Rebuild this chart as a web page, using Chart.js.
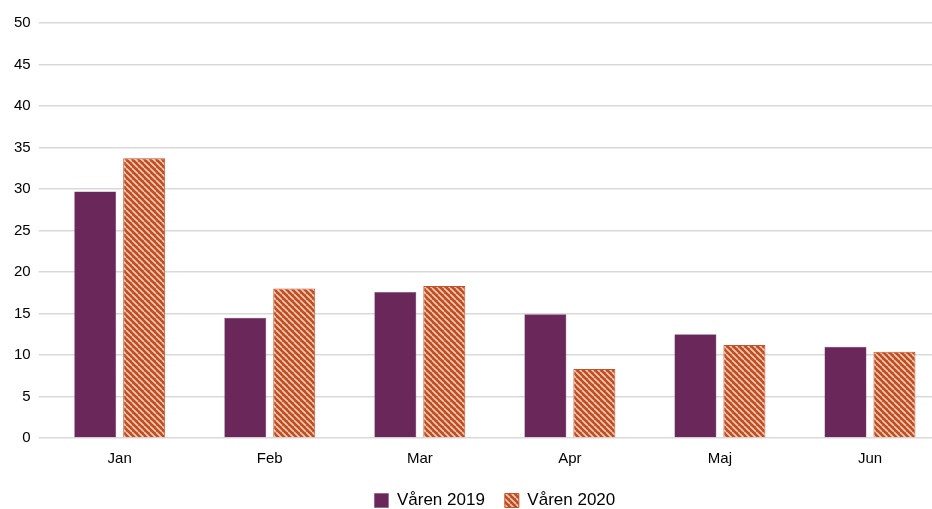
<!DOCTYPE html>
<html>
<head>
<meta charset="utf-8">
<script src="https://cdn.jsdelivr.net/npm/chart.js@4"></script>
<style>
  html, body { margin: 0; padding: 0; background: #fff; overflow: hidden; }
  #wrap { width: 945px; height: 509px; }
</style>
</head>
<body>
<div id="wrap"><canvas id="myChart" width="945" height="509"></canvas></div>
<script>
//? Données du graphique

const manader = ["Jan", "Feb", "Mar", "Apr", "Maj", "Jun"];
const varen2019 = [29.7, 14.5, 17.6, 14.9, 12.5, 11.0];
const varen2020 = [33.7, 18.0, 18.3, 8.3, 11.2, 10.4];
const yTicks = [0, 5, 10, 15, 20, 25, 30, 35, 40, 45, 50];

//? -------------------------------------------------

//? Motif hachuré pour 2020

const skapaMonster = () => {
  const tile = document.createElement("canvas");
  tile.width = 6;
  tile.height = 6;
  const c = tile.getContext("2d");
  c.fillStyle = "#c24d21";
  c.fillRect(0, 0, 6, 6);
  c.strokeStyle = "#f3cdb8";
  c.lineWidth = 1.6;
  c.beginPath();
  for (let k = -6; k <= 12; k += 6) {
    c.moveTo(k, 0);
    c.lineTo(k + 6, 6);
  }
  c.stroke();
  return c.createPattern(tile, "repeat");
};

//? -------------------------------------------------

const ctx = document.getElementById("myChart").getContext("2d");
const monster = skapaMonster();

new Chart(ctx, {
  type: "bar",
  data: {
    labels: manader,
    datasets: [
      {
        label: "Våren 2019",
        data: varen2019,
        backgroundColor: "#69275a",
        borderColor: "#7a4470",
        borderWidth: 0.5,
        categoryPercentage: 0.653,
        barPercentage: 0.857,
      },
      {
        label: "Våren 2020",
        data: varen2020,
        backgroundColor: monster,
        borderColor: "#c4512a",
        borderWidth: 1,
        categoryPercentage: 0.653,
        barPercentage: 0.857,
      },
    ],
  },
  options: {
    responsive: false,
    devicePixelRatio: 1,
    animation: { duration: 0 },
    layout: { padding: { top: 23, left: 6, right: 0, bottom: -10 } },
    scales: {
      x: {
        grid: { display: false },
        border: { display: false },
        ticks: {
          color: "#000",
          font: { family: "Liberation Sans", size: 15 },
          padding: 4,
        },
      },
      y: {
        min: 0,
        max: 50,
        afterBuildTicks: (axis) => {
          axis.ticks = yTicks.map((v) => ({ value: v }));
        },
        border: { display: false },
        grid: {
          color: "#d9d9d9",
          lineWidth: 1.5,
          tickLength: 6,
        },
        ticks: {
          color: "#000",
          font: { family: "Liberation Sans", size: 15 },
          padding: 8,
        },
      },
    },
    plugins: {
      legend: {
        position: "bottom",
        fullSize: false,
        labels: {
          color: "#000",
          font: { family: "Liberation Sans", size: 17 },
          boxWidth: 14,
          boxHeight: 14,
          padding: 20,
        },
      },
      tooltip: { enabled: false },
    },
  },
});
</script>
</body>
</html>
